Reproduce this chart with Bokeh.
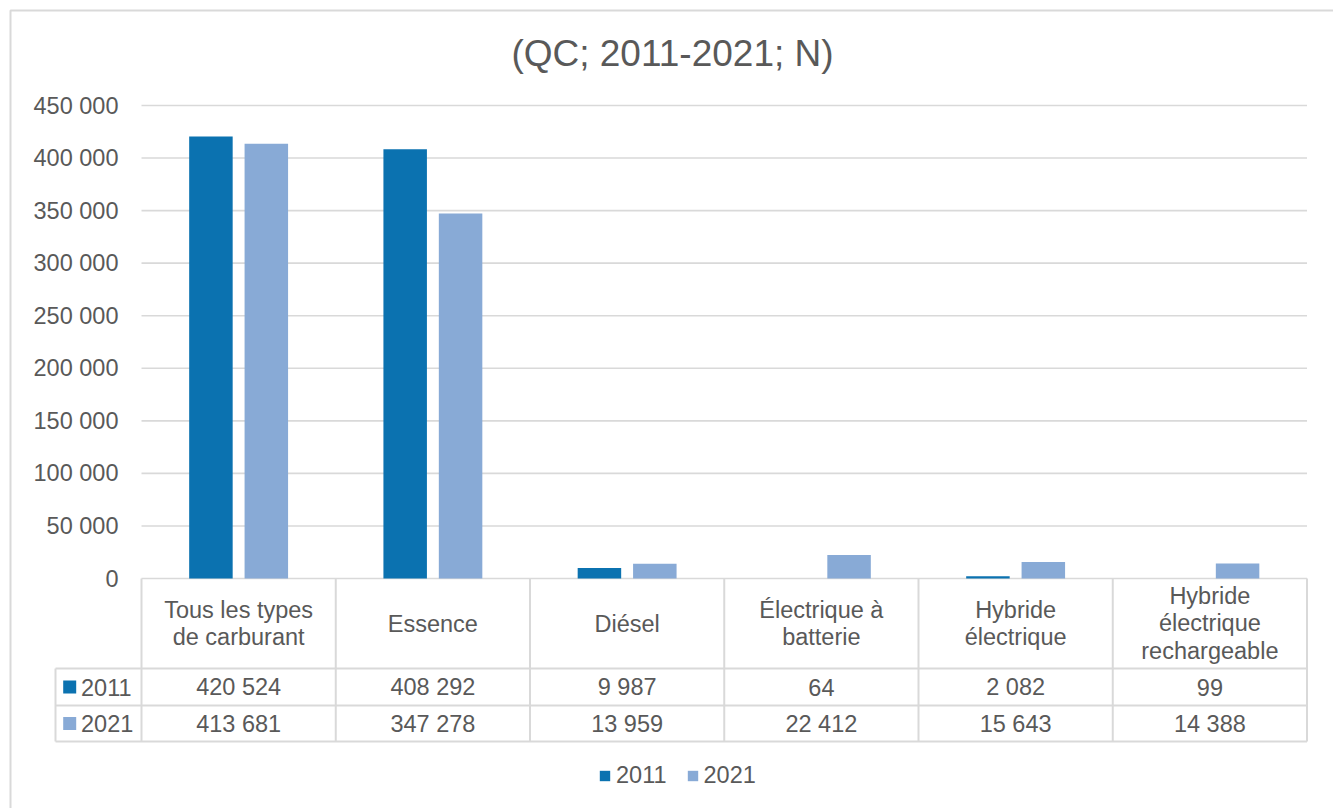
from bokeh.plotting import figure
from bokeh.models import Range1d, FixedTicker, Legend, LegendItem
from bokeh.core.properties import value
from bokeh.embed import file_html
from bokeh.resources import INLINE

# ---------------- data ----------------
categories = [
    "Tous les types\nde carburant",
    "Essence",
    "Diésel",
    "Électrique à\nbatterie",
    "Hybride\nélectrique",
    "Hybride\nélectrique\nrechargeable",
]
series_names = ["2011", "2021"]
values_2011 = [420524, 408292, 9987, 64, 2082, 99]
values_2021 = [413681, 347278, 13959, 22412, 15643, 14388]
y_ticks = [0, 50000, 100000, 150000, 200000, 250000, 300000, 350000, 400000, 450000]
y_tick_labels = ["0", "50 000", "100 000", "150 000", "200 000", "250 000",
                 "300 000", "350 000", "400 000", "450 000"]
title_text = "(QC; 2011-2021; N)"

# ---------------- style / layout ----------------
W, H = 1333, 808
FONT = "Liberation Sans"
TXT = "#595959"
GRID = "#d9d9d9"
C2011 = "#0b72b0"
C2021 = "#88aad6"
FS = "23.5px"

PLOT_L, PLOT_R = 141, 1306.5
Y_MAX_PX, Y_ZERO_PX = 105, 578
Y_MAX = y_ticks[-1]
HEADER_BOTTOM, ROW1_BOTTOM, ROW2_BOTTOM = 668, 705, 741
LEG_COL_L = 55

n = len(categories)
cat_w = (PLOT_R - PLOT_L) / n


def xd(px):
    return (px - PLOT_L) / cat_w


ppu = (Y_ZERO_PX - Y_MAX_PX) / Y_MAX

p = figure(
    width=W, height=H,
    x_range=Range1d(xd(0), xd(W)),
    y_range=Range1d(-(H - Y_ZERO_PX) / ppu, Y_MAX + Y_MAX_PX / ppu),
    output_backend="svg", toolbar_location=None, title_location=None,
    min_border=0,
)
p.extra_x_ranges = {"px": Range1d(0, W)}
p.extra_y_ranges = {"px": Range1d(H, 0)}
p.outline_line_color = None
p.background_fill_color = "white"
p.border_fill_color = "white"
p.xaxis.visible = False
p.xgrid.visible = False
p.ygrid.visible = False

yax = p.yaxis[0]
yax.fixed_location = 0
yax.ticker = FixedTicker(ticks=y_ticks)
yax.major_label_overrides = dict(zip(y_ticks, y_tick_labels))
yax.axis_line_color = None
yax.major_tick_line_color = None
yax.minor_tick_line_color = None
yax.major_tick_out = 0
yax.major_tick_in = 0
yax.major_label_standoff = 23
yax.major_label_text_font = FONT
yax.major_label_text_font_size = FS
yax.major_label_text_color = TXT

# outer chart border (left and top visible)
p.line(x=[10, 10, W], y=[H, 10, 10], x_range_name="px", y_range_name="px",
       line_color=GRID, line_width=2)

# gridlines
p.segment(x0=[0] * len(y_ticks), x1=[n] * len(y_ticks), y0=y_ticks, y1=y_ticks,
          line_color=GRID, line_width=1.6)

# bars
xs = [i + 0.5 for i in range(n)]
off = 27.7 / cat_w
bw = 43.5 / cat_w
r1 = p.vbar(x=[x - off for x in xs], top=values_2011, bottom=0, width=bw,
            fill_color=C2011, line_color=None)
r2 = p.vbar(x=[x + off for x in xs], top=values_2021, bottom=0, width=bw,
            fill_color=C2021, line_color=None)

# data table lines
row_lines = [HEADER_BOTTOM, ROW1_BOTTOM, ROW2_BOTTOM]
p.segment(x0=[xd(LEG_COL_L)] * 3, x1=[n] * 3, y0=row_lines, y1=row_lines,
          y_range_name="px", line_color=GRID, line_width=2)
p.segment(x0=list(range(n + 1)), x1=list(range(n + 1)),
          y0=[Y_ZERO_PX] * (n + 1), y1=[ROW2_BOTTOM] * (n + 1),
          y_range_name="px", line_color=GRID, line_width=2)
p.segment(x0=[xd(LEG_COL_L)], x1=[xd(LEG_COL_L)], y0=[HEADER_BOTTOM], y1=[ROW2_BOTTOM],
          y_range_name="px", line_color=GRID, line_width=2)

# header labels
p.text(x=xs, y=[(Y_ZERO_PX + HEADER_BOTTOM) / 2] * n, text=categories,
       y_range_name="px", text_align="center", text_baseline="middle",
       text_font=value(FONT), text_font_size=value(FS), text_color=TXT,
       text_line_height=1.07)


def fmt(v):
    return f"{v:,}".replace(",", " ")


row_y = [(HEADER_BOTTOM + ROW1_BOTTOM) / 2, (ROW1_BOTTOM + ROW2_BOTTOM) / 2]
for vals, yy in zip([values_2011, values_2021], row_y):
    p.text(x=xs, y=[yy] * n, text=[fmt(v) for v in vals], y_range_name="px",
           text_align="center", text_baseline="middle",
           text_font=value(FONT), text_font_size=value(FS), text_color=TXT)

# row headers of the table
p.rect(x=[69.2, 69.2], y=row_y, width=13, height=13, x_range_name="px", y_range_name="px",
       fill_color=[C2011, C2021], line_color=None)
p.text(x=[80.5, 80.5], y=row_y, text=series_names, x_range_name="px", y_range_name="px",
       text_align="left", text_baseline="middle",
       text_font=value(FONT), text_font_size=value(FS), text_color=TXT)

# title
p.text(x=[672], y=[53], text=[title_text], x_range_name="px", y_range_name="px",
       text_align="center", text_baseline="middle",
       text_font=value(FONT), text_font_size=value("37px"), text_color=TXT)

# bottom legend
legend = Legend(
    items=[LegendItem(label=series_names[0], renderers=[r1]),
           LegendItem(label=series_names[1], renderers=[r2])],
    orientation="horizontal", location=(598, 19),
    padding=0, margin=0, spacing=19, label_standoff=5,
    glyph_width=13, glyph_height=13,
    label_text_font=FONT, label_text_font_size=FS, label_text_color=TXT,
    border_line_color=None, background_fill_alpha=0,
)
p.add_layout(legend)

open("out.html", "w").write(file_html(p, INLINE))
